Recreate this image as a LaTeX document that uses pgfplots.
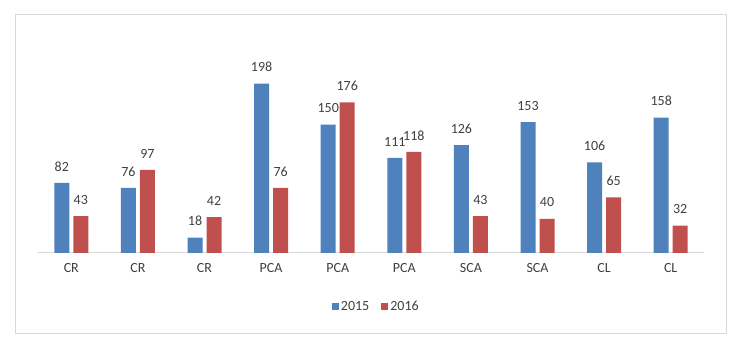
\documentclass[border=0pt]{standalone}
\usepackage{pgfplots}
\pgfplotsset{compat=1.18}
\usepackage{fontspec}
\setmainfont{Carlito}
\definecolor{b15}{HTML}{4F81BD}
\definecolor{r16}{HTML}{C0504D}
\definecolor{txt}{HTML}{404040}
\definecolor{ax}{HTML}{D9D9D9}
\begin{document}
\begin{tikzpicture}[x=1pt,y=1pt]
\path[use as bounding box, fill=white] (0,0) rectangle (738,344);
\draw[ax, line width=1pt] (15.5,10) rectangle (726.5,329);
\begin{axis}[
  at={(38pt,91pt)}, anchor=south west,
  scale only axis, width=666pt, height=214pt,
  xmin=-0.5, xmax=9.5, ymin=0, ymax=250,
  axis y line=none, axis x line*=bottom,
  x axis line style={ax, line width=1pt},
  xtick={0,...,9},
  xticklabels={CR,CR,CR,PCA,PCA,PCA,SCA,SCA,CL,CL},
  major tick length=0pt,
  xticklabel style={font=\fontsize{14}{16}\selectfont, text=txt, yshift=-7pt},
  ybar, bar width=15pt,
  nodes near coords,
  /pgf/number format/assume math mode=true,
  every node near coord/.append style={font=\fontsize{14}{16}\selectfont, text=txt, inner sep=0pt, yshift=11.5pt},
  legend style={at={(0.508,-0.252)}, anchor=center, draw=none, legend columns=2,
    font=\fontsize{14}{16}\selectfont, text=txt,
    /tikz/every even column/.append style={column sep=10pt}},
  legend image code/.code={\fill[#1] (0pt,-3.5pt) rectangle (7pt,3.5pt);},
]
\addplot[fill=b15, draw=none, bar shift=-9.5pt] coordinates {(0,82) (1,76) (2,18) (3,198) (4,150) (5,111) (6,126) (7,153) (8,106) (9,158)};
\addplot[fill=r16, draw=none, bar shift=9.5pt] coordinates {(0,43) (1,97) (2,42) (3,76) (4,176) (5,118) (6,43) (7,40) (8,65) (9,32)};
\legend{2015,2016}
\end{axis}
\end{tikzpicture}
\end{document}
